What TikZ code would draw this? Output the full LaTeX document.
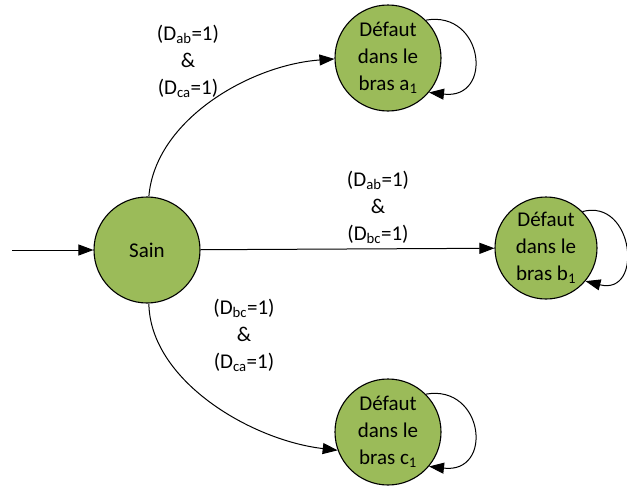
\documentclass[tikz,border=0pt]{standalone}
\usepackage{fontspec}
\setmainfont{Carlito}
\usetikzlibrary{arrows.meta}
\definecolor{stategreen}{HTML}{9BBB59}
\begin{document}
\begin{tikzpicture}[x=1pt,y=-1pt,
  state/.style={circle,draw=black,line width=1.1pt,fill=stategreen,minimum size=106pt,inner sep=0pt,align=center,font=\fontsize{21}{27}\selectfont},
  lbl/.style={align=center,font=\fontsize{21}{27}\selectfont},
  conn/.style={line width=1pt,-{Triangle[length=15pt,width=11pt]}}]
\useasboundingbox (0,0) rectangle (627,490);
\node[state] (s) at (147,250) {Sain};
\node[state] (a) at (388,58) {Défaut\\dans le\\bras a\textsubscript{1}};
\node[state,minimum size=102pt] (b) at (546,248) {Défaut\\dans le\\bras b\textsubscript{1}};
\node[state] (c) at (388,432) {Défaut\\dans le\\bras c\textsubscript{1}};
\coordinate (init) at (12,250);
\draw[conn] (init) -- (s);
\draw[conn] (s.88) .. controls (155,120) and (250,65) .. (a.181);
\draw[conn] (s) -- (b);
\draw[conn] (s.272) .. controls (150,380) and (250,440) .. (c.200);
\draw[conn] (a.45) .. controls (484,10) and (494,100) .. (a.-40);
\draw[conn] (b.45) .. controls (634,198) and (644,296) .. (b.-40);
\draw[conn] (c.45) .. controls (484,384) and (494,474) .. (c.-40);
\node[lbl] (la) at (188,61) {(D\textsubscript{ab}=1)\\\&\\(D\textsubscript{ca}=1)};
\node[lbl] (lb) at (378,207) {(D\textsubscript{ab}=1)\\\&\\(D\textsubscript{bc}=1)};
\node[lbl] (lc) at (244,335) {(D\textsubscript{bc}=1)\\\&\\(D\textsubscript{ca}=1)};
\end{tikzpicture}
\end{document}
